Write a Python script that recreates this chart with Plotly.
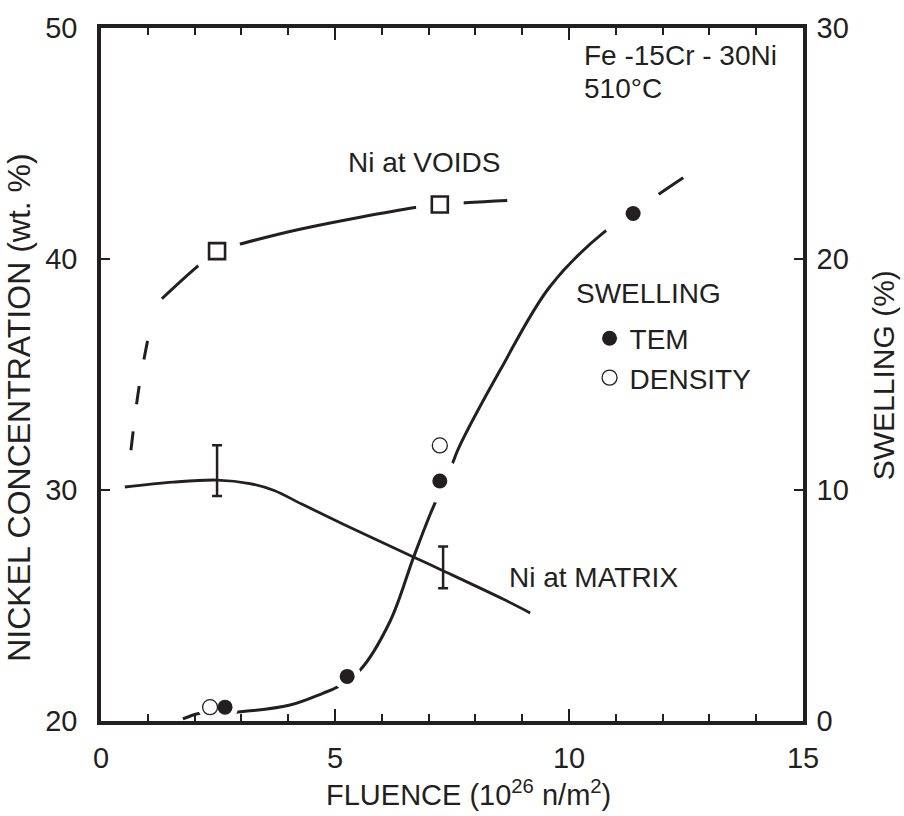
import plotly.graph_objects as go

# ---------------- data ----------------
fluence_ticks = [0, 5, 10, 15]
ni_ticks = [20, 30, 40, 50]
swelling_ticks = [0, 10, 20, 30]

# Ni at VOIDS (left axis)
voids_x = [2.48, 7.24]
voids_ni = [40.34, 42.36]
voids_fit_low_x = [0.64, 0.81, 1.03]
voids_fit_low_y = [31.72, 34.42, 36.82]
voids_fit_x = [1.30, 2.05, 2.48, 3.06, 4.25, 6.71, 7.24, 8.68]
voids_fit_y = [38.28, 39.66, 40.34, 40.69, 41.29, 42.23, 42.36, 42.53]

# Ni at MATRIX (left axis)
matrix_fit_x = [0.51, 1.54, 2.48, 3.18, 3.70, 4.30, 5.20, 6.71, 7.24, 8.59, 9.17]
matrix_fit_y = [30.13, 30.34, 30.43, 30.28, 29.98, 29.38, 28.50, 27.07, 26.57, 25.28, 24.68]
matrix_err_x = [2.48, 7.31]
matrix_err_y = [30.84, 26.65]
matrix_err = [1.10, 0.90]

# SWELLING (right axis)
tem_x = [2.65, 5.26, 7.24, 11.37]
tem_swelling = [0.60, 1.93, 10.39, 21.97]
density_x = [2.33, 7.24]
density_swelling = [0.60, 11.93]
swell_fit_x = [1.75, 2.12, 2.93, 4.04, 4.74, 5.04, 5.53, 6.18, 6.67, 7.03,
               7.52, 7.63, 8.53, 9.59, 10.75, 11.37, 11.88, 12.44]
swell_fit_y = [0.09, 0.34, 0.39, 0.69, 1.20, 1.46, 2.19, 4.33, 7.04, 8.93,
               11.20, 11.76, 15.19, 18.80, 21.16, 21.97, 22.75, 23.52]

# ---------------- styling ----------------
INK = "#231f20"
FONT = "Liberation Sans, Arial, sans-serif"
NARROW = "Liberation Sans Narrow, Arial Narrow, Liberation Sans, Arial, sans-serif"

fig = go.Figure()

# fitted curves
fig.add_trace(go.Scatter(x=voids_fit_low_x, y=voids_fit_low_y, mode="lines",
                         line=dict(color=INK, width=3, dash="19px,27px", shape="spline"),
                         showlegend=False, hoverinfo="skip"))
fig.add_trace(go.Scatter(x=voids_fit_x, y=voids_fit_y, mode="lines",
                         line=dict(color=INK, width=3, shape="spline"),
                         showlegend=False, hoverinfo="skip"))
fig.add_trace(go.Scatter(x=matrix_fit_x, y=matrix_fit_y, mode="lines",
                         line=dict(color=INK, width=2.8, shape="spline"),
                         showlegend=False, hoverinfo="skip"))
fig.add_trace(go.Scatter(x=swell_fit_x, y=swell_fit_y, mode="lines", yaxis="y2",
                         line=dict(color=INK, width=3, shape="spline"),
                         showlegend=False, hoverinfo="skip"))

# error bars on the matrix curve
fig.add_trace(go.Scatter(x=matrix_err_x, y=matrix_err_y, mode="markers",
                         marker=dict(size=1, color="rgba(0,0,0,0)"),
                         error_y=dict(type="data", array=matrix_err, color=INK,
                                      thickness=2.5, width=5),
                         showlegend=False, hoverinfo="skip"))

# white halos that open gaps in the curves around the symbols
fig.add_trace(go.Scatter(x=voids_x, y=voids_ni, mode="markers",
                         marker=dict(size=48, color="white", opacity=1, line=dict(width=0)),
                         showlegend=False, hoverinfo="skip"))
fig.add_trace(go.Scatter(x=tem_x, y=tem_swelling, mode="markers", yaxis="y2",
                         marker=dict(size=[26, 28, 44, 64], color="white", opacity=1,
                                     line=dict(width=0)),
                         showlegend=False, hoverinfo="skip"))
fig.add_trace(go.Scatter(x=density_x, y=density_swelling, mode="markers", yaxis="y2",
                         marker=dict(size=[24, 30], color="white", opacity=1,
                                     line=dict(width=0)),
                         showlegend=False, hoverinfo="skip"))

# symbols
fig.add_trace(go.Scatter(x=voids_x, y=voids_ni, mode="markers",
                         marker=dict(symbol="square", size=16, color="white", opacity=1,
                                     line=dict(color=INK, width=2.6)),
                         showlegend=False, name="Ni at VOIDS"))
fig.add_trace(go.Scatter(x=tem_x, y=tem_swelling, mode="markers", yaxis="y2",
                         marker=dict(symbol="circle", size=15, color=INK, opacity=1,
                                     line=dict(width=0)),
                         name="TEM"))
fig.add_trace(go.Scatter(x=density_x, y=density_swelling, mode="markers", yaxis="y2",
                         marker=dict(symbol="circle", size=15, color="white", opacity=1,
                                     line=dict(color=INK, width=1.3)),
                         name="DENSITY"))

axis_common = dict(showline=True, linecolor=INK, linewidth=3.5, showgrid=False,
                   zeroline=False, ticks="inside", tickcolor=INK, tickwidth=2,
                   tickfont=dict(family=FONT, size=29, color=INK))

fig.update_layout(
    width=904, height=816,
    margin=dict(l=101, r=101, t=22, b=95),
    paper_bgcolor="white", plot_bgcolor="white",
    font=dict(family=FONT, color=INK),
    xaxis=dict(range=[0, 15], tickmode="array", tickvals=fluence_ticks,
               ticklen=12, mirror="ticks", ticklabelstandoff=8,
               minor=dict(dtick=1, tick0=0, ticks="inside", ticklen=7,
                          tickwidth=2, tickcolor=INK, showgrid=False),
               **axis_common),
    yaxis=dict(range=[20, 50], tickmode="array", tickvals=ni_ticks,
               ticklen=9, ticklabelstandoff=14, **axis_common),
    yaxis2=dict(range=[0, 30], tickmode="array", tickvals=swelling_ticks,
                overlaying="y", side="right", ticklen=9, ticklabelstandoff=4,
                **axis_common),
    legend=dict(x=0.676, y=0.588, xanchor="left", yanchor="top",
                bgcolor="rgba(0,0,0,0)", indentation=14, itemsizing="trace",
                font=dict(family=FONT, size=28, color=INK)),
    showlegend=True,
)

ann_font = dict(family=FONT, size=28, color=INK)
fig.add_annotation(x=10.28, y=48.80, xref="x", yref="y", text="Fe -15Cr - 30Ni",
                   showarrow=False, xanchor="left", yanchor="middle", font=ann_font)
fig.add_annotation(x=10.28, y=47.40, xref="x", yref="y", text="510°C",
                   showarrow=False, xanchor="left", yanchor="middle", font=ann_font)
fig.add_annotation(x=6.90, y=44.17, xref="x", yref="y", text="Ni at VOIDS",
                   showarrow=False, xanchor="center", yanchor="middle", font=ann_font)
fig.add_annotation(x=8.68, y=26.20, xref="x", yref="y", text="Ni at MATRIX",
                   showarrow=False, xanchor="left", yanchor="middle", font=ann_font)
fig.add_annotation(x=10.11, y=38.50, xref="x", yref="y", text="SWELLING",
                   showarrow=False, xanchor="left", yanchor="middle", font=ann_font)

# axis titles
fig.add_annotation(x=0.523, y=-0.104, xref="paper", yref="paper",
                   text="FLUENCE (10<sup>26</sup> n/m<sup>2</sup>)",
                   showarrow=False, xanchor="center", yanchor="middle",
                   font=dict(family=NARROW, size=29, color=INK))
fig.add_annotation(x=-0.1168, y=0.452, xref="paper", yref="paper",
                   text="NICKEL CONCENTRATION (wt. %)", textangle=-90,
                   showarrow=False, xanchor="center", yanchor="middle",
                   font=dict(family=FONT, size=32, color=INK))
fig.add_annotation(x=1.114, y=0.499, xref="paper", yref="paper",
                   text="SWELLING (%)", textangle=-90,
                   showarrow=False, xanchor="center", yanchor="middle",
                   font=dict(family=FONT, size=30, color=INK))

fig.write_html("out.html")
